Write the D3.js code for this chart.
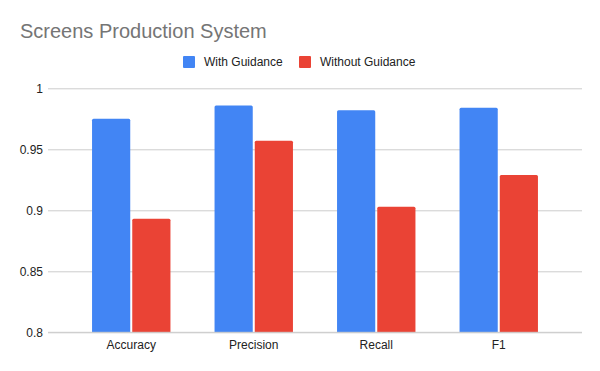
<!DOCTYPE html>
<html>
<head>
<meta charset="utf-8">
<script src="https://cdn.jsdelivr.net/npm/d3@7"></script>
<style>
  html, body { margin: 0; padding: 0; background: #fff; }
  svg { display: block; font-family: "Liberation Sans", Arial, sans-serif; }
</style>
</head>
<body>
<svg id="chart" width="600" height="371"></svg>
<script>
const categories = ["Accuracy", "Precision", "Recall", "F1"];
const seriesNames = ["With Guidance", "Without Guidance"];
const withGuidance = [0.975, 0.986, 0.982, 0.984];
const withoutGuidance = [0.893, 0.957, 0.903, 0.929];
const yTicks = [0.8, 0.85, 0.9, 0.95, 1];
const colors = ["#4285F4", "#EA4335"];

const svg = d3.select("#chart");
const W = 600, H = 371;
svg.append("rect").attr("width", W).attr("height", H).attr("fill", "#fff");

const plot = { left: 48, right: 582, top: 88.3, bottom: 332.3 };

const y = d3.scaleLinear().domain([0.8, 1]).range([plot.bottom, plot.top]);
const x0 = d3.scaleBand().domain(categories).range([70, 560]).paddingInner(0.36).paddingOuter(0.18);
const x1 = d3.scaleBand().domain(seriesNames).range([0, x0.bandwidth()]).paddingInner(0.05);
const color = d3.scaleOrdinal().domain(seriesNames).range(colors);

// Title
svg.append("text").attr("x", 20).attr("y", 37.5)
  .attr("font-size", 20).attr("fill", "#757575").text("Screens Production System");

// Legend
const legendX = [183, 299];
seriesNames.forEach((s, i) => {
  svg.append("rect").attr("x", legendX[i]).attr("y", 56).attr("width", 12).attr("height", 12)
    .attr("rx", 1).attr("fill", color(s));
  svg.append("text").attr("x", legendX[i] + 21).attr("y", 66.3)
    .attr("font-size", 12).attr("fill", "#222").text(s);
});

// Gridlines and y labels
const yAxis = d3.axisLeft(y).tickValues(yTicks).tickSize(-(plot.right - plot.left))
  .tickFormat(d => d3.format("")(+d.toFixed(2))).tickPadding(5);
const gy = svg.append("g").attr("transform", `translate(${plot.left},0)`).call(yAxis);
gy.select(".domain").remove();
gy.selectAll(".tick line").attr("stroke", "#cccccc").attr("stroke-width", 1);
gy.selectAll(".tick text").attr("font-size", 12).attr("fill", "#222")
  .attr("font-family", "'Liberation Sans', Arial, sans-serif");

// Bars
const data = categories.map((c, i) => ({ cat: c, values: [withGuidance[i], withoutGuidance[i]] }));
const groups = svg.append("g").selectAll("g").data(data).join("g")
  .attr("transform", d => `translate(${x0(d.cat)},0)`);
groups.selectAll("path").data(d => d.values.map((v, j) => ({ s: seriesNames[j], v })))
  .join("path")
  .attr("fill", d => color(d.s))
  .attr("d", d => {
    const xL = x1(d.s), w = x1.bandwidth(), yT = y(d.v), yB = y(0.8), r = 1.5;
    return `M${xL},${yB}V${yT + r}Q${xL},${yT} ${xL + r},${yT}H${xL + w - r}Q${xL + w},${yT} ${xL + w},${yT + r}V${yB}Z`;
  });

// Baseline
svg.append("line").attr("x1", plot.left).attr("x2", plot.right)
  .attr("y1", y(0.8)).attr("y2", y(0.8)).attr("stroke", "#cccccc");

// X axis labels
const xAxis = d3.axisBottom(x0).tickSize(0).tickPadding(8);
const gx = svg.append("g").attr("transform", `translate(0,${plot.bottom})`).call(xAxis);
gx.select(".domain").remove();
gx.selectAll(".tick text").attr("font-size", 12).attr("fill", "#222")
  .attr("font-family", "'Liberation Sans', Arial, sans-serif");
</script>
</body>
</html>
